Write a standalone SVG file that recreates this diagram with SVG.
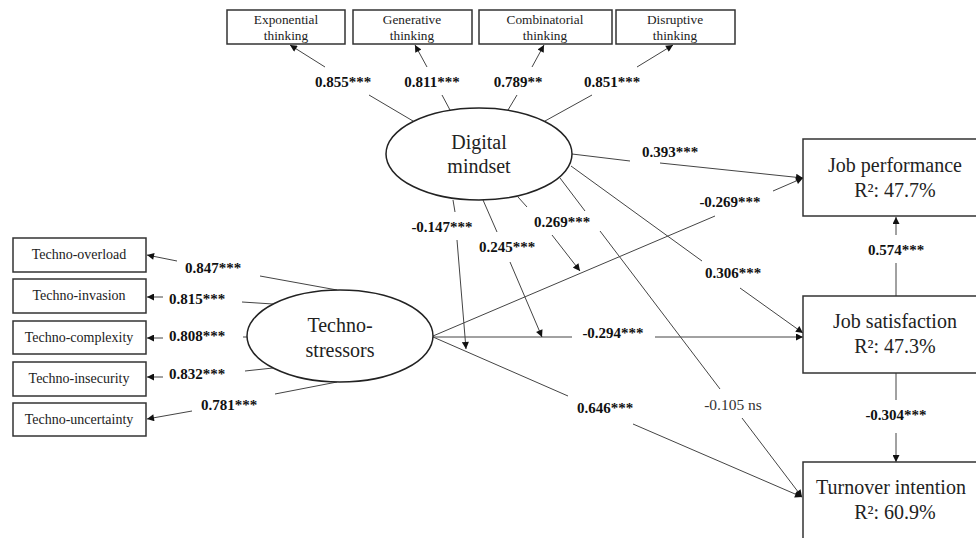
<svg xmlns="http://www.w3.org/2000/svg" width="976" height="538" viewBox="0 0 976 538" font-family="'Liberation Serif', 'Times New Roman', serif">
  <defs>
    <marker id="arrow" viewBox="0 0 10 10" refX="10" refY="5" markerWidth="9" markerHeight="7" markerUnits="userSpaceOnUse" orient="auto">
      <path d="M0,0 L10,5 L0,10 z" fill="#111"/>
    </marker>
    <style>
      .box { fill: #fff; stroke: #333; stroke-width: 1.5; }
      .ell { fill: #fff; stroke: #222; stroke-width: 1.5; }
      .ln { fill: none; stroke: #444; stroke-width: 1; }
      text { font-family: 'Liberation Serif', 'Times New Roman', serif; }
      .txt { fill: #222; text-anchor: middle; }
      .top { font-size: 13.3px; }
      .side { font-size: 14px; }
      .big { font-size: 20px; }
      .lab { font-size: 15px; font-weight: bold; fill: #111; text-anchor: middle; }
      .ns { font-size: 15.5px; fill: #333; text-anchor: middle; }
    </style>
  </defs>

  <rect width="976" height="538" fill="#fff"/>

  <!-- connectors -->
  <g id="connectors">
    <!-- digital mindset indicators -->
    <line class="ln" x1="413" y1="121" x2="369" y2="95"/>
    <line class="ln" x1="325" y1="67" x2="290" y2="45" marker-end="url(#arrow)"/>
    <line class="ln" x1="450" y1="110" x2="442" y2="95"/>
    <line class="ln" x1="427" y1="67" x2="415" y2="45" marker-end="url(#arrow)"/>
    <line class="ln" x1="508" y1="110" x2="517" y2="95"/>
    <line class="ln" x1="532" y1="67" x2="544" y2="45" marker-end="url(#arrow)"/>
    <line class="ln" x1="545" y1="121" x2="592" y2="95"/>
    <line class="ln" x1="637" y1="67" x2="673" y2="45" marker-end="url(#arrow)"/>

    <!-- techno-stressors indicators -->
    <line class="ln" x1="337" y1="290" x2="260" y2="276"/>
    <line class="ln" x1="177" y1="261" x2="147" y2="255" marker-end="url(#arrow)"/>
    <line class="ln" x1="273" y1="304" x2="242" y2="302"/>
    <line class="ln" x1="163" y1="297" x2="147" y2="297" marker-end="url(#arrow)"/>
    <line class="ln" x1="247" y1="337" x2="243" y2="337"/>
    <line class="ln" x1="163" y1="338" x2="147" y2="338" marker-end="url(#arrow)"/>
    <line class="ln" x1="273" y1="368" x2="245" y2="371"/>
    <line class="ln" x1="163" y1="377" x2="147" y2="377" marker-end="url(#arrow)"/>
    <line class="ln" x1="337" y1="382" x2="275" y2="394"/>
    <line class="ln" x1="192" y1="411" x2="147" y2="419" marker-end="url(#arrow)"/>

    <!-- digital mindset -> job performance -->
    <line class="ln" x1="572" y1="154" x2="630" y2="161"/>
    <line class="ln" x1="660" y1="163" x2="803" y2="178" marker-end="url(#arrow)"/>

    <!-- techno-stressors -> job performance -->
    <line class="ln" x1="433" y1="336" x2="715" y2="216"/>
    <line class="ln" x1="773" y1="191" x2="803" y2="178" marker-end="url(#arrow)"/>

    <!-- digital mindset -> job satisfaction -->
    <line class="ln" x1="571" y1="166" x2="702" y2="261"/>
    <line class="ln" x1="740" y1="288" x2="803" y2="333" marker-end="url(#arrow)"/>

    <!-- techno-stressors -> job satisfaction -->
    <line class="ln" x1="433" y1="337" x2="572" y2="337"/>
    <line class="ln" x1="655" y1="337" x2="803" y2="337" marker-end="url(#arrow)"/>

    <!-- techno-stressors -> turnover intention -->
    <line class="ln" x1="433" y1="337" x2="568" y2="396"/>
    <line class="ln" x1="633" y1="424" x2="802" y2="497" marker-end="url(#arrow)"/>

    <!-- digital mindset -> turnover intention -->
    <line class="ln" x1="560" y1="178" x2="585" y2="211"/>
    <line class="ln" x1="600" y1="231" x2="720" y2="389"/>
    <line class="ln" x1="742" y1="418" x2="802" y2="497" marker-end="url(#arrow)"/>

    <!-- moderation paths -->
    <line class="ln" x1="453" y1="200" x2="455" y2="212"/>
    <line class="ln" x1="457" y1="240" x2="466" y2="349" marker-end="url(#arrow)"/>
    <line class="ln" x1="483" y1="200" x2="497" y2="232"/>
    <line class="ln" x1="510" y1="262" x2="542" y2="337" marker-end="url(#arrow)"/>
    <line class="ln" x1="518" y1="197" x2="527" y2="207"/>
    <line class="ln" x1="552" y1="235" x2="580" y2="271" marker-end="url(#arrow)"/>

    <!-- job satisfaction -> job performance / turnover intention -->
    <line class="ln" x1="896" y1="296" x2="896" y2="263"/>
    <line class="ln" x1="896" y1="235" x2="896" y2="217" marker-end="url(#arrow)"/>
    <line class="ln" x1="896" y1="373" x2="896" y2="400"/>
    <line class="ln" x1="896" y1="433" x2="896" y2="462" marker-end="url(#arrow)"/>
  </g>

  <!-- path coefficients -->
  <g id="labels">
    <text class="lab" x="343" y="87">0.855***</text>
    <text class="lab" x="432" y="87">0.811***</text>
    <text class="lab" x="518" y="87">0.789**</text>
    <text class="lab" x="612" y="87">0.851***</text>
    <text class="lab" x="213" y="273">0.847***</text>
    <text class="lab" x="197" y="304">0.815***</text>
    <text class="lab" x="197" y="341">0.808***</text>
    <text class="lab" x="197" y="379">0.832***</text>
    <text class="lab" x="229" y="410">0.781***</text>
    <text class="lab" x="670" y="157">0.393***</text>
    <text class="lab" x="730" y="207">-0.269***</text>
    <text class="lab" x="733" y="278">0.306***</text>
    <text class="lab" x="613" y="338">-0.294***</text>
    <text class="lab" x="605" y="413">0.646***</text>
    <text class="ns" x="733" y="410">-0.105 ns</text>
    <text class="lab" x="442" y="232">-0.147***</text>
    <text class="lab" x="507" y="252">0.245***</text>
    <text class="lab" x="562" y="227">0.269***</text>
    <text class="lab" x="896" y="255">0.574***</text>
    <text class="lab" x="896" y="420">-0.304***</text>
  </g>

  <!-- first-order indicators of digital mindset -->
  <g id="exponential-thinking">
    <rect class="box" x="227" y="10" width="118" height="34"/>
    <text class="txt top" x="286" y="24">Exponential</text>
    <text class="txt top" x="286" y="40">thinking</text>
  </g>
  <g id="generative-thinking">
    <rect class="box" x="353" y="10" width="119" height="34"/>
    <text class="txt top" x="412" y="24">Generative</text>
    <text class="txt top" x="412" y="40">thinking</text>
  </g>
  <g id="combinatorial-thinking">
    <rect class="box" x="479" y="10" width="133" height="34"/>
    <text class="txt top" x="545" y="24">Combinatorial</text>
    <text class="txt top" x="545" y="40">thinking</text>
  </g>
  <g id="disruptive-thinking">
    <rect class="box" x="616" y="10" width="119" height="34"/>
    <text class="txt top" x="675" y="24">Disruptive</text>
    <text class="txt top" x="675" y="40">thinking</text>
  </g>

  <!-- first-order indicators of techno-stressors -->
  <g id="techno-overload">
    <rect class="box" x="13" y="238" width="133" height="34"/>
    <text class="txt side" x="79" y="259">Techno-overload</text>
  </g>
  <g id="techno-invasion">
    <rect class="box" x="13" y="279" width="133" height="34"/>
    <text class="txt side" x="79" y="300">Techno-invasion</text>
  </g>
  <g id="techno-complexity">
    <rect class="box" x="13" y="321" width="133" height="33"/>
    <text class="txt side" x="79" y="342">Techno-complexity</text>
  </g>
  <g id="techno-insecurity">
    <rect class="box" x="13" y="362" width="133" height="34"/>
    <text class="txt side" x="79" y="383">Techno-insecurity</text>
  </g>
  <g id="techno-uncertainty">
    <rect class="box" x="13" y="403" width="133" height="33"/>
    <text class="txt side" x="79" y="424">Techno-uncertainty</text>
  </g>

  <!-- latent constructs -->
  <g id="digital-mindset">
    <ellipse class="ell" cx="479" cy="154" rx="93" ry="46"/>
    <text class="txt big" x="479" y="149">Digital</text>
    <text class="txt big" x="479" y="173">mindset</text>
  </g>
  <g id="techno-stressors">
    <ellipse class="ell" cx="340" cy="336" rx="93" ry="46"/>
    <text class="txt big" x="340" y="332">Techno-</text>
    <text class="txt big" x="340" y="357">stressors</text>
  </g>

  <!-- outcomes -->
  <g id="job-performance">
    <rect class="box" x="803" y="139" width="200" height="77"/>
    <text class="txt big" x="895" y="172">Job performance</text>
    <text class="txt big" x="895" y="197">R²: 47.7%</text>
  </g>
  <g id="job-satisfaction">
    <rect class="box" x="803" y="296" width="200" height="77"/>
    <text class="txt big" x="895" y="328">Job satisfaction</text>
    <text class="txt big" x="895" y="353">R²: 47.3%</text>
  </g>
  <g id="turnover-intention">
    <rect class="box" x="803" y="462" width="200" height="100"/>
    <text class="txt big" x="891" y="494">Turnover intention</text>
    <text class="txt big" x="895" y="519">R²: 60.9%</text>
  </g>
</svg>
